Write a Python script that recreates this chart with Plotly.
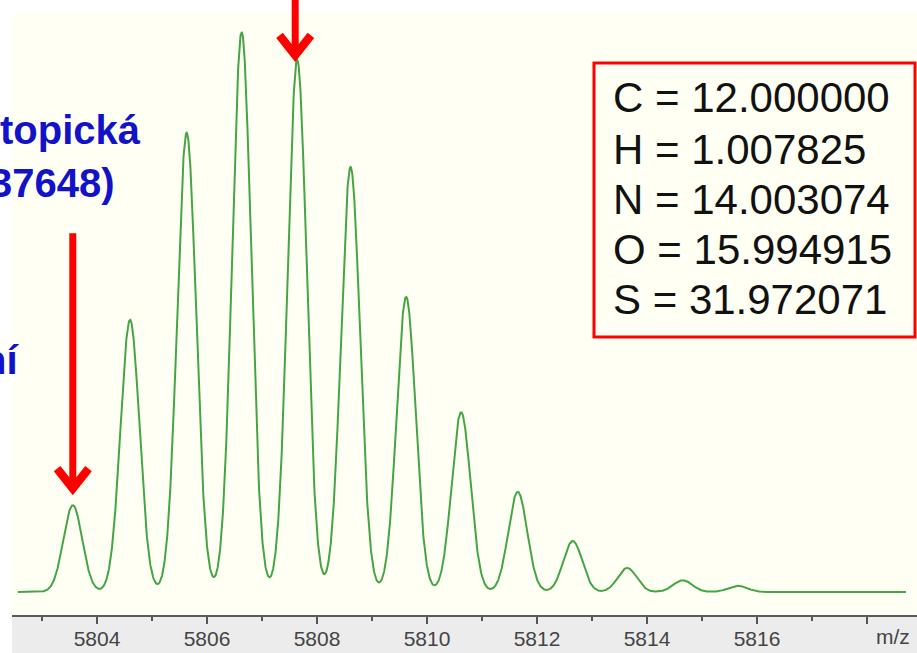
import numpy as np
import plotly.graph_objects as go

# Isotope cluster: centroid m/z and relative intensity (%) of each peak
peak_mz = [5803.56, 5804.60, 5805.63, 5806.63, 5807.64, 5808.61, 5809.62,
           5810.62, 5811.65, 5812.65, 5813.64, 5814.65, 5815.65]
peak_int = [15.5, 48.6, 82.0, 100.0, 95.0, 75.9, 52.7,
            32.1, 17.9, 9.1, 4.3, 2.1, 1.1]

# Acquired m/z window and peak width of the profile
scan_start, scan_end = 5802.56, 5818.71
peak_sigma = 0.172

# Axis ticks
major_ticks = [5804, 5806, 5808, 5810, 5812, 5814, 5816, 5818]
major_labels = ["5804", "5806", "5808", "5810", "5812", "5814", "5816", ""]
minor_ticks = [5803, 5805, 5807, 5809, 5811, 5813, 5815, 5817]

# Monoisotopic masses of the elements
mass_lines = ["C = 12.000000", "H = 1.007825", "N = 14.003074",
              "O = 15.994915", "S = 31.972071"]

# Side labels
side_labels = ["topická", "37648)", "ní"]

FONT = "Liberation Sans, Arial, sans-serif"
CREAM = "#FFFFF3"
RED = "#FF0000"
BLUE = "#1212C8"

# profile spectrum built as a sum of Gaussian isotope peaks
mz = np.arange(scan_start, scan_end, 0.004)
intensity = np.zeros_like(mz)
for m, h in zip(peak_mz, peak_int):
    intensity += h * np.exp(-((mz - m) ** 2) / (2 * peak_sigma ** 2))

fig = go.Figure()
fig.add_trace(go.Scatter(
    x=mz, y=intensity, mode="lines",
    line=dict(color="#45a545", width=2),
    hoverinfo="skip", showlegend=False,
))

W, H = 917, 653
ml, mr, mt, mb = 12, 0, 0, 38
plot_w = W - ml - mr
plot_h = H - mt - mb


def px_x(px):
    return (px - ml) / plot_w


def px_y(py):
    return (H - mb - py) / plot_h


shapes = [
    # cream chart background (white strip above it)
    dict(type="rect", xref="paper", yref="paper", x0=0, x1=1,
         y0=0, y1=px_y(12), fillcolor=CREAM, line=dict(width=0),
         layer="below"),
    # grey band under the axis
    dict(type="rect", xref="paper", yref="paper", x0=0, x1=1,
         y0=px_y(H + 5), y1=0, fillcolor="#ECECEC", line=dict(width=0),
         layer="below"),
    # red frame of the mass table
    dict(type="rect", xref="paper", yref="paper",
         x0=px_x(594), x1=px_x(915), y0=px_y(337), y1=px_y(63),
         line=dict(color=RED, width=3), fillcolor="rgba(0,0,0,0)"),
]


def arrow_path(tip, length, dx=0.0):
    pts = [(0, tip), (-19, tip + 24), (-12.4, tip + 29.2), (-3.5, tip + 18),
           (-3.5, tip + length), (3.5, tip + length), (3.5, tip + 18),
           (12.4, tip + 29.2), (19, tip + 24)]
    return "M " + " L ".join(f"{x + dx:.1f},{y:.1f}" for x, y in pts) + " Z"


# arrows pointing at the first peak and at the second most intense peak
for idx, tip, length, dx in [(0, 10, 262, 0.0), (4, -2, 80, -2.0)]:
    shapes.append(dict(
        type="path", xref="x", yref="y",
        xsizemode="pixel", ysizemode="pixel",
        xanchor=peak_mz[idx], yanchor=peak_int[idx],
        path=arrow_path(tip, length, dx),
        fillcolor=RED, line=dict(width=0), layer="above",
    ))

annotations = []
line_y = [98, 149, 199, 249, 299]
for txt, yy in zip(mass_lines, line_y):
    annotations.append(dict(
        xref="paper", yref="paper", x=px_x(611), y=px_y(yy),
        xanchor="left", yanchor="middle", text=txt, showarrow=False,
        font=dict(family=FONT, size=42, color="#111111"),
    ))

for txt, xr, yy in zip(side_labels, [143, 117, 21], [130, 183, 360]):
    annotations.append(dict(
        xref="paper", yref="paper", x=px_x(xr), y=px_y(yy),
        xanchor="right", yanchor="middle", text=f"<b>{txt}</b>",
        showarrow=False, font=dict(family=FONT, size=40, color=BLUE),
    ))

annotations.append(dict(
    xref="paper", yref="paper", x=px_x(893), y=px_y(636),
    xanchor="center", yanchor="middle", text="m/z", showarrow=False,
    font=dict(family=FONT, size=21, color="#444444"),
))

# 55 px per m/z unit, 5804 at x = 97 px
x_lo = 5804 + (ml - 97) / 55
x_hi = 5804 + (W - mr - 97) / 55
# intensity 0 at y = 592 px, 5.6 px per percent
y_lo = -(H - mb - 592) / 5.6
y_hi = (592 - mt) / 5.6

fig.update_layout(
    width=W, height=H,
    margin=dict(l=ml, r=mr, t=mt, b=mb, pad=0),
    paper_bgcolor="white", plot_bgcolor="white",
    showlegend=False,
    xaxis=dict(
        range=[x_lo, x_hi], showgrid=False, zeroline=False,
        showline=True, linecolor="#5a5a5a", linewidth=2,
        tickmode="array", tickvals=major_ticks, ticktext=major_labels,
        ticks="outside", ticklen=7, tickwidth=1.5, tickcolor="#555555",
        ticklabelstandoff=-3,
        tickfont=dict(family=FONT, size=21, color="#444444"),
        minor=dict(tickmode="array", tickvals=minor_ticks, ticks="outside",
                   ticklen=4, tickwidth=1.5, tickcolor="#555555",
                   showgrid=False),
    ),
    yaxis=dict(range=[y_lo, y_hi], visible=False, showgrid=False,
               zeroline=False),
    shapes=shapes,
    annotations=annotations,
)

fig.write_html("out.html")
